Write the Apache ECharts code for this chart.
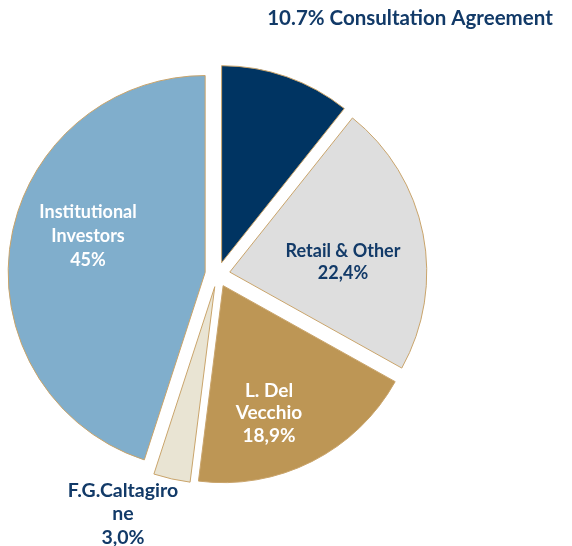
<!DOCTYPE html>
<html>
<head>
<meta charset="utf-8">
<script src="https://cdn.jsdelivr.net/npm/echarts@6/dist/echarts.min.js"></script>
<style>
  html, body { margin: 0; padding: 0; background: #ffffff; }
  #chart { width: 572px; height: 546px; }
</style>
</head>
<body>
<div id="chart"></div>
<script>
// ---- data ----
const categories = ['Consultation Agreement', 'Retail & Other', 'L. Del Vecchio', 'F.G.Caltagirone', 'Institutional Investors'];
const values = [10.7, 22.4, 18.9, 3.0, 45];
const labelTexts = ['10.7% Consultation Agreement', 'Retail & Other\n22,4%', 'L. Del\nVecchio\n18,9%', 'F.G.Caltagiro\nne\n3,0%', 'Institutional\nInvestors\n45%'];

// ---- styles ----
const sliceColors = ['#003462', '#DEDEDE', '#BD9655', '#E9E4D3', '#80AECC'];
const textColors = ['#123A68', '#123A68', '#FFFFFF', '#123A68', '#FFFFFF'];
const labelPositions = [[410, 18], [343, 262], [269, 413], [123, 514], [88, 236.5]];
const labelSizes = [20.5, 18, 19, 19.5, 18];
const labelLineHeights = [24, 22, 22.5, 23.3, 24];

const chart = echarts.init(document.getElementById('chart'), null, { renderer: 'canvas' });

const data = categories.map((name, i) => ({
  name: name,
  value: values[i],
  selected: true,
  itemStyle: { color: sliceColors[i] }
}));

const labelGraphics = labelTexts.map((t, i) => ({
  type: 'text',
  silent: true,
  z: 100,
  style: {
    text: t,
    x: labelPositions[i][0],
    y: labelPositions[i][1],
    fill: textColors[i],
    font: 'bold ' + labelSizes[i] + 'px Lato',
    lineHeight: labelLineHeights[i],
    align: 'center',
    verticalAlign: 'middle'
  }
}));

chart.setOption({
  animation: false,
  graphic: labelGraphics,
  series: [{
    type: 'pie',
    center: [217.5, 274.5],
    radius: [0, 197],
    startAngle: 90,
    clockwise: true,
    selectedMode: 'multiple',
    selectedOffset: 12.5,
    avoidLabelOverlap: false,
    itemStyle: { borderColor: '#C9A46B', borderWidth: 1 },
    emphasis: { disabled: true },
    label: { show: false },
    labelLine: { show: false },
    data: data
  }]
});
</script>
</body>
</html>
